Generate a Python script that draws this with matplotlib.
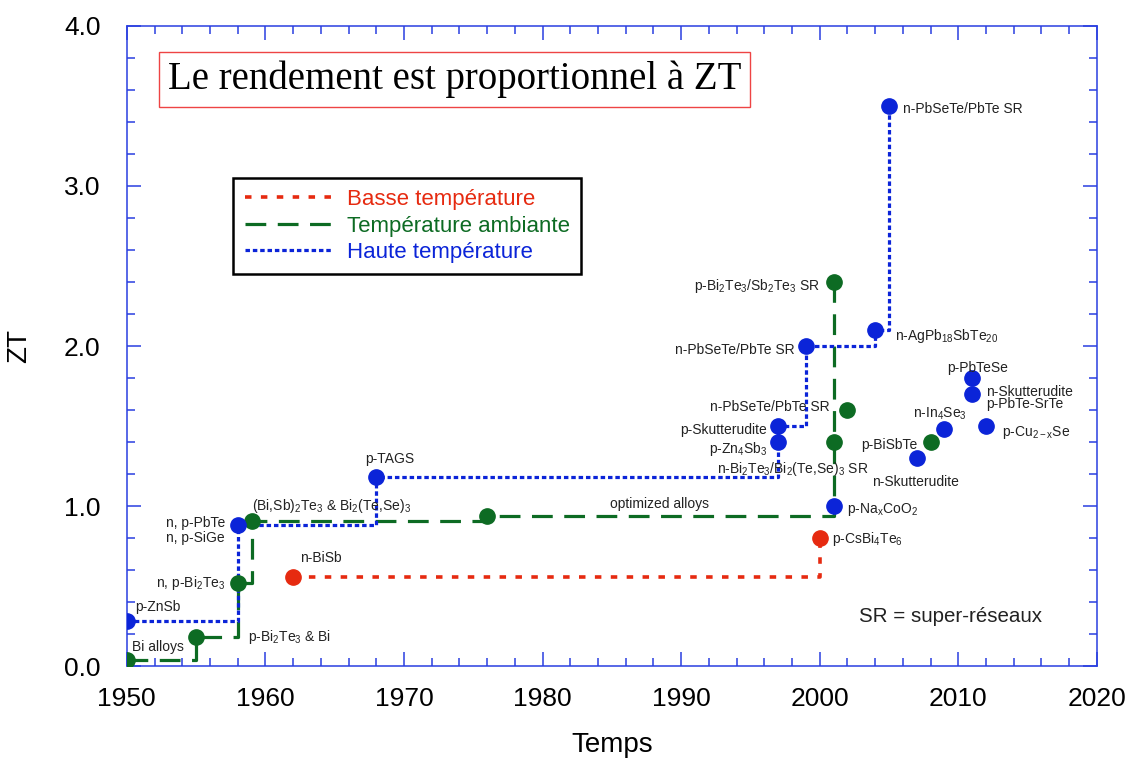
import matplotlib
matplotlib.use("Agg")
import matplotlib.pyplot as plt
from matplotlib.ticker import MultipleLocator

plt.rcParams['font.family'] = ['Liberation Sans', 'DejaVu Sans']
plt.rcParams['mathtext.fontset'] = 'custom'
plt.rcParams['mathtext.rm'] = 'Liberation Sans'
plt.rcParams['mathtext.it'] = 'Liberation Sans'

# ---- data ----
low_years = [1962, 2000]
low_zt = [0.56, 0.80]

room_years = [1950, 1955, 1958, 1959, 1976, 2001, 2001]
room_zt = [0.04, 0.18, 0.52, 0.91, 0.94, 1.40, 2.40]
room_extra_years = [2002, 2008]
room_extra_zt = [1.60, 1.40]

high_years = [1950, 1958, 1968, 1997, 1997, 1999, 2004, 2005]
high_zt = [0.28, 0.88, 1.18, 1.40, 1.50, 2.00, 2.10, 3.50]
high_extra_years = [2001, 2007, 2009, 2011, 2011, 2012]
high_extra_zt = [1.00, 1.30, 1.48, 1.80, 1.70, 1.50]

legend_labels = ["Basse température", "Température ambiante", "Haute température"]
title_text = "Le rendement est proportionnel à ZT"

# label text, x, y, horizontal alignment
labels = [
    ("p-ZnSb", 1950.58, 0.344, 'left'),
    ("Bi alloys", 1950.36, 0.094, 'left'),
    ("p-Bi$_{2}$Te$_{3}$ & Bi", 1958.73, 0.156, 'left'),
    ("n, p-Bi$_{2}$Te$_{3}$", 1957.14, 0.494, 'right'),
    ("n, p-PbTe", 1957.07, 0.869, 'right'),
    ("n, p-SiGe", 1957.07, 0.775, 'right'),
    ("(Bi,Sb)$_{2}$Te$_{3}$ & Bi$_{2}$(Te,Se)$_{3}$", 1959.02, 0.975, 'left'),
    ("n-BiSb", 1962.48, 0.65, 'left'),
    ("p-TAGS", 1967.18, 1.269, 'left'),
    ("optimized alloys", 1984.86, 0.9875, 'left'),
    ("p-Zn$_{4}$Sb$_{3}$", 1996.26, 1.331, 'right'),
    ("n-Bi$_{2}$Te$_{3}$/Bi$_{2}$(Te,Se)$_{3}$ SR", 1992.58, 1.206, 'left'),
    ("p-Na$_{x}$CoO$_{2}$", 2001.96, 0.956, 'left'),
    ("p-CsBi$_{4}$Te$_{6}$", 2000.88, 0.769, 'left'),
    ("p-Bi$_{2}$Te$_{3}$/Sb$_{2}$Te$_{3}$ SR", 2000.01, 2.35, 'right'),
    ("n-PbSeTe/PbTe SR", 1998.2, 1.95, 'right'),
    ("n-PbSeTe/PbTe SR", 2000.7, 1.594, 'right'),
    ("p-Skutterudite", 1996.19, 1.45, 'right'),
    ("n-AgPb$_{18}$SbTe$_{20}$", 2005.42, 2.0375, 'left'),
    ("n-PbSeTe/PbTe SR", 2006.0, 3.456, 'left'),
    ("p-PbTeSe", 2009.18, 1.8375, 'left'),
    ("n-Skutterudite", 2011.99, 1.6875, 'left'),
    ("p-PbTe-SrTe", 2011.99, 1.6125, 'left'),
    ("n-In$_{4}$Se$_{3}$", 2006.72, 1.55, 'left'),
    ("p-Cu$_{2-x}$Se", 2013.14, 1.4375, 'left'),
    ("p-BiSbTe", 2002.97, 1.356, 'left'),
    ("n-Skutterudite", 2003.76, 1.125, 'left'),
]

RED = '#e62a10'
GREEN = '#0d6b23'
BLUE = '#0b24d8'
SPINE = '#2a3fe0'

fig = plt.figure(figsize=(11.32, 7.58), dpi=100)
ax = fig.add_axes([0.112, 0.121, 0.857, 0.845])

lw = 2.3
l_low, = ax.plot(low_years, low_zt, drawstyle='steps-post', color=RED, lw=2.6,
                 dashes=(1.8, 2.6), zorder=2)
l_room, = ax.plot(room_years, room_zt, drawstyle='steps-post', color=GREEN, lw=lw,
                  dashes=(6.5, 3.6), zorder=2)
l_high, = ax.plot(high_years, high_zt, drawstyle='steps-post', color=BLUE, lw=lw,
                  dashes=(1.4, 0.9), zorder=2)

ms = 11
ax.plot(low_years, low_zt, 'o', color=RED, ms=ms, zorder=3)
ax.plot(room_years, room_zt, 'o', color=GREEN, ms=ms, zorder=3)
ax.plot(room_extra_years, room_extra_zt, 'o', color=GREEN, ms=ms, zorder=3)
ax.plot(high_years, high_zt, 'o', color=BLUE, ms=ms, zorder=3)
ax.plot(high_extra_years, high_extra_zt, 'o', color=BLUE, ms=ms, zorder=3)

for txt, x, y, ha in labels:
    ax.text(x, y, txt, ha=ha, va='baseline', fontsize=10, color='#222222', zorder=4)

ax.text(2002.8, 0.275, "SR = super-réseaux", ha='left', va='baseline', fontsize=14.8,
        color='#222222')

ax.text(0.338, 0.916, title_text, transform=ax.transAxes, ha='center', va='center',
        fontsize=28, family='Liberation Serif', color='black',
        bbox=dict(boxstyle='square,pad=0.22', fc='white', ec='#ee4444', lw=1.0))

leg = ax.legend([l_low, l_room, l_high], legend_labels, loc='upper left',
                bbox_to_anchor=(0.110, 0.7625), fontsize=16, handlelength=4.0,
                fancybox=False, framealpha=1, edgecolor='black',
                borderpad=0.5, labelspacing=0.25, handletextpad=0.6,
                borderaxespad=0)
leg.get_frame().set_linewidth(1.8)
for t, c in zip(leg.get_texts(), [RED, GREEN, BLUE]):
    t.set_color(c)

ax.set_xlim(1950, 2020)
ax.set_ylim(0, 4.0)
ax.xaxis.set_major_locator(MultipleLocator(10))
ax.xaxis.set_minor_locator(MultipleLocator(2))
ax.yaxis.set_major_locator(MultipleLocator(1.0))
ax.yaxis.set_minor_locator(MultipleLocator(0.2))
ax.yaxis.set_major_formatter(plt.FormatStrFormatter('%.1f'))
ax.tick_params(which='both', direction='in', top=True, right=True, color=SPINE,
               labelsize=19, width=1.1)
ax.tick_params(which='major', length=10)
ax.tick_params(axis='x', which='major', pad=15)
ax.tick_params(axis='y', which='major', pad=19)
ax.tick_params(which='minor', length=6)
for s in ax.spines.values():
    s.set_color(SPINE)
    s.set_linewidth(1.1)

ax.set_xlabel("Temps", fontsize=20)
ax.xaxis.set_label_coords(0.5, -0.102)
ax.set_ylabel("ZT", fontsize=20)
ax.yaxis.set_label_coords(-0.098, 0.5)

fig.savefig("out.png", dpi=100)
